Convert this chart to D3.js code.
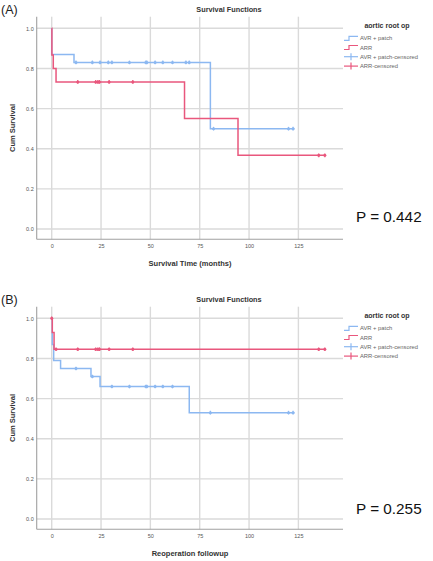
<!DOCTYPE html>
<html><head><meta charset="utf-8">
<script src="https://cdn.jsdelivr.net/npm/d3@7"></script>
<style>body{margin:0;background:#fff}svg{display:block}</style>
</head><body>
<script>
// ---------- DATA ----------
const xTicks = [0, 25, 50, 75, 100, 125];
const yTicks = [0, 0.2, 0.4, 0.6, 0.8, 1.0];
const legendLabels = ["AVR + patch", "ARR", "AVR + patch-censored", "ARR-censored"];

// Panel A: Survival Time (months)
const avrA_events = [0, 11.3, 80.4];
const avrA_surv = [0.87, 0.83, 0.50];
const avrA_end = 123;
const avrA_censored = [12.3, 20.6, 24.5, 28.7, 30.5, 39.4, 47.7, 48.2, 52.4, 56.3, 61.2, 68, 69.7, 82, 120, 122.3];

const arrA_events = [0.1, 0.8, 2.2, 67.3, 94.4];
const arrA_surv = [0.867, 0.80, 0.733, 0.55, 0.367];
const arrA_end = 138.4;
const arrA_censored = [13.2, 22.3, 23.4, 24.2, 29.1, 41.1, 135.3, 138.4];

// Panel B: Reoperation followup
const avrB_events = [0.3, 1.0, 4.5, 19.9, 24.5, 69.7];
const avrB_surv = [0.87, 0.79, 0.75, 0.71, 0.66, 0.53];
const avrB_end = 123;
const avrB_censored = [12.3, 20.6, 30.5, 39.4, 47.7, 48.2, 52.4, 56.3, 61.2, 80.4, 120, 122.3];

const arrB_events = [0.3, 1.2];
const arrB_surv = [0.929, 0.846];
const arrB_end = 138.4;
const arrB_censored = [0, 2.2, 13.2, 22.3, 23.4, 24.2, 29.1, 41.1, 135.3, 138.4];

const panels = [
  {label: "(A)", xTitle: "Survival Time (months)", p: "P = 0.442", dy: 0, pY: 221.5,
   avr: {ev: avrA_events, s: avrA_surv, end: avrA_end, c: avrA_censored},
   arr: {ev: arrA_events, s: arrA_surv, end: arrA_end, c: arrA_censored}},
  {label: "(B)", xTitle: "Reoperation followup", p: "P = 0.255", dy: 290, pY: 514,
   avr: {ev: avrB_events, s: avrB_surv, end: avrB_end, c: avrB_censored},
   arr: {ev: arrB_events, s: arrB_surv, end: arrB_end, c: arrB_censored}}
];

// ---------- STYLE ----------
const BLUE = "#8cb8f1", RED = "#e9577d", GRID = "#dadada", AXIS = "#a0a0a0";
const FONT = "'Liberation Sans', Arial, sans-serif";

const W = 433, H = 561;
const svg = d3.select("body").append("svg").attr("width", W).attr("height", H);

const L = 36.7, R = 343;
const x = d3.scaleLinear().domain([-7.6, 147.6]).range([L, R]);

function stepPoints(d) {
  const pts = [[0, 1]];
  let cur = 1;
  d.ev.forEach((t, i) => { pts.push([t, cur]); cur = d.s[i]; pts.push([t, cur]); });
  pts.push([d.end, cur]);
  return pts;
}
function survAt(d, t) {
  let cur = 1;
  d.ev.forEach((e, i) => { if (e <= t) cur = d.s[i]; });
  return cur;
}

panels.forEach(P => {
  const g = svg.append("g");
  const top = 16.7 + P.dy, bottom = 239.3 + P.dy;
  const y = d3.scaleLinear().domain([0, 1]).range([229 + P.dy, 28.3 + P.dy]);

  g.append("text").attr("x", 1).attr("y", 13.5 + P.dy).text(P.label)
    .attr("font-family", FONT).attr("font-size", 12.5).attr("fill", "#222");

  g.append("text").attr("x", 229).attr("y", 12 + P.dy).attr("text-anchor", "middle")
    .text("Survival Functions").attr("font-family", FONT).attr("font-size", 7.3)
    .attr("font-weight", "bold").attr("fill", "#333");

  g.selectAll(".hg").data(yTicks).join("line")
    .attr("x1", L).attr("x2", R).attr("y1", d => y(d)).attr("y2", d => y(d))
    .attr("stroke", GRID).attr("stroke-width", 1.4);
  g.selectAll(".vg").data(xTicks).join("line")
    .attr("x1", d => x(d)).attr("x2", d => x(d)).attr("y1", top).attr("y2", bottom)
    .attr("stroke", GRID).attr("stroke-width", 1.4);

  const xAxis = d3.axisBottom(x).tickValues(xTicks).tickSize(0).tickPadding(5)
    .tickFormat(d3.format("d"));
  const xa = g.append("g").attr("transform", `translate(0,${bottom})`).call(xAxis);
  xa.select(".domain").remove();
  xa.selectAll("text").attr("font-family", FONT).attr("font-size", 5.5).attr("fill", "#555");

  const yAxis = d3.axisLeft(y).tickValues(yTicks).tickSize(0).tickPadding(3)
    .tickFormat(d3.format(".1f"));
  const ya = g.append("g").attr("transform", `translate(${L},0)`).call(yAxis);
  ya.select(".domain").remove();
  ya.selectAll("text").attr("font-family", FONT).attr("font-size", 5.5).attr("fill", "#555");

  g.append("line").attr("x1", L).attr("x2", L).attr("y1", top).attr("y2", bottom)
    .attr("stroke", AXIS).attr("stroke-width", 1.1);
  g.append("line").attr("x1", L).attr("x2", R).attr("y1", bottom).attr("y2", bottom)
    .attr("stroke", AXIS).attr("stroke-width", 1.1);

  g.append("text").attr("x", 190).attr("y", 266 + P.dy).attr("text-anchor", "middle")
    .text(P.xTitle).attr("font-family", FONT).attr("font-size", 7.5)
    .attr("font-weight", "bold").attr("fill", "#333");
  g.append("text").attr("transform", `translate(15,${128 + P.dy}) rotate(-90)`)
    .attr("text-anchor", "middle").text("Cum Survival").attr("font-family", FONT)
    .attr("font-size", 7.5).attr("font-weight", "bold").attr("fill", "#333");

  const line = d3.line().x(d => x(d[0])).y(d => y(d[1]));
  [[P.avr, BLUE], [P.arr, RED]].forEach(([d, col]) => {
    g.append("path").attr("d", line(stepPoints(d))).attr("fill", "none")
      .attr("stroke", col).attr("stroke-width", 1.5);
    const cg = g.append("g");
    d.c.forEach(t => {
      const cx = x(t), cy = y(survAt(d, t));
      cg.append("line").attr("x1", cx).attr("x2", cx).attr("y1", cy - 1.8).attr("y2", cy + 1.8)
        .attr("stroke", col).attr("stroke-width", 1.2);
      cg.append("circle").attr("cx", cx).attr("cy", cy).attr("r", 1.5).attr("fill", col);
    });
  });

  const lg = g.append("g");
  lg.append("text").attr("x", 387).attr("y", 27.5 + P.dy).attr("text-anchor", "middle")
    .text("aortic root op").attr("font-family", FONT).attr("font-size", 7)
    .attr("font-weight", "bold").attr("fill", "#333");
  const ly = [38.3, 47.5, 56.7, 66.1];
  const lcol = [BLUE, RED, BLUE, RED];
  legendLabels.forEach((lab, i) => {
    const yy = ly[i] + P.dy;
    if (i < 2) {
      lg.append("path").attr("d", `M344,${yy + 2} H349 V${yy - 2} H358`).attr("fill", "none")
        .attr("stroke", lcol[i]).attr("stroke-width", 1.2);
    } else {
      lg.append("line").attr("x1", 344).attr("x2", 358).attr("y1", yy).attr("y2", yy)
        .attr("stroke", lcol[i]).attr("stroke-width", 1.2);
      lg.append("line").attr("x1", 351).attr("x2", 351).attr("y1", yy - 3.5).attr("y2", yy + 3.5)
        .attr("stroke", lcol[i]).attr("stroke-width", 1.2);
    }
    lg.append("text").attr("x", 360).attr("y", yy + 2).text(lab)
      .attr("font-family", FONT).attr("font-size", 5.8).attr("fill", "#666");
  });

  g.append("text").attr("x", 356).attr("y", P.pY).text(P.p)
    .attr("font-family", FONT).attr("font-size", 15.3).attr("fill", "#111");
});
</script>
</body></html>
